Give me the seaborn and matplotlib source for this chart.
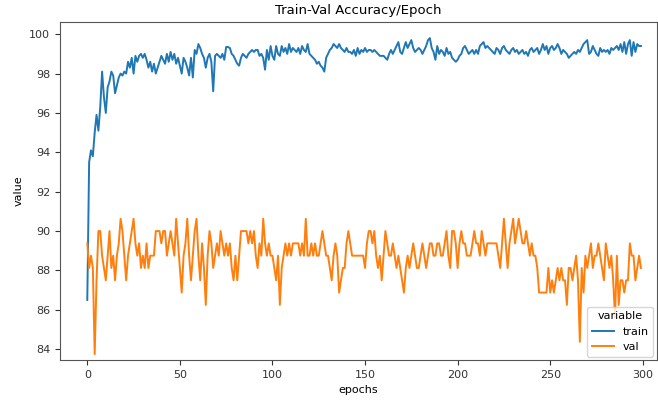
import matplotlib
matplotlib.use("Agg")
import matplotlib.pyplot as plt
import seaborn as sns
import pandas as pd
import numpy as np

train = [
    86.5, 93.5, 94.1, 93.8, 95.0, 95.9, 95.1, 96.3, 98.1, 96.8,
    96.0, 97.3, 97.6, 98.1, 97.9, 97.0, 97.4, 97.8, 98.0, 97.9,
    98.1, 98.0, 98.6, 98.3, 98.8, 98.0, 98.9, 98.6, 98.9, 99.0,
    98.8, 99.0, 98.7, 98.3, 98.6, 98.1, 98.5, 98.0, 98.3, 98.6,
    98.9, 98.7, 98.5, 99.0, 98.6, 99.1, 98.7, 99.0, 98.5, 98.8,
    98.4, 98.0, 98.8, 98.6, 98.3, 97.9, 98.8, 97.8, 99.2, 99.0,
    99.5, 99.3, 99.0, 98.8, 98.3, 98.8, 99.0, 98.6, 97.1, 98.9,
    99.0, 98.9, 98.8, 99.0, 98.7, 99.35, 99.35, 99.3, 99.0, 98.9,
    98.7, 98.5, 98.4, 98.8, 99.0, 98.9, 98.8, 99.0, 99.1, 99.2,
    99.1, 99.2, 99.2, 98.9, 99.0, 98.8, 98.2, 99.2, 98.7, 99.4,
    98.9, 98.7, 99.4, 99.0, 98.9, 99.4, 99.1, 99.3, 99.0, 99.5,
    99.1, 99.3, 99.2, 99.1, 99.3, 99.0, 99.4, 99.2, 99.1, 99.5,
    99.0, 98.9, 98.8, 98.7, 98.5, 98.6, 98.4, 98.3, 98.1, 98.8,
    99.0, 99.2, 99.3, 99.5, 99.4, 99.3, 99.5, 99.3, 99.2, 99.1,
    99.3, 99.1, 99.1, 99.0, 99.2, 98.9, 99.3, 99.0, 99.2, 99.1,
    99.3, 99.1, 99.2, 99.2, 99.1, 99.2, 99.1, 99.0, 98.9, 98.9,
    98.9, 98.8, 98.7, 99.0, 99.2, 99.0, 99.2, 99.4, 99.6, 99.1,
    99.0, 99.3, 99.6, 99.3, 99.5, 99.7, 99.3, 99.1, 99.2, 99.3,
    99.2, 99.0, 99.2, 99.4, 99.7, 99.8, 99.3, 99.1, 98.7, 99.4,
    99.0, 99.2, 99.1, 98.9, 99.3, 99.0, 99.1, 98.8, 98.7, 98.6,
    98.7, 98.9, 99.0, 99.3, 99.4, 99.2, 99.0, 99.1, 99.2, 99.0,
    99.2, 99.0, 99.4, 99.5, 99.6, 99.3, 99.4, 99.3, 99.2, 99.1,
    99.0, 99.3, 99.2, 99.0, 99.3, 99.4, 99.2, 99.1, 99.0, 99.2,
    99.3, 99.1, 99.2, 99.0, 99.1, 99.2, 99.0, 99.1, 98.9, 99.2,
    99.3, 99.1, 99.2, 99.3, 99.0, 99.2, 99.5, 99.2, 99.4, 99.0,
    99.3, 99.4, 99.2, 99.3, 99.5, 99.3, 99.0, 99.2, 99.1, 99.0,
    98.8, 98.9, 99.0, 99.1, 99.0, 99.2, 99.1, 99.3, 99.5, 99.6,
    99.7, 99.0, 99.1, 99.4, 99.2, 99.0, 98.9, 99.3, 99.1, 99.2,
    99.1, 99.2, 99.0, 99.3, 99.2, 99.3, 99.4, 99.2, 99.5, 99.1,
    99.6, 99.0, 99.5, 99.7, 98.9, 99.6, 99.1, 99.5, 99.4, 99.4,
]

val = [
    89.375, 88.125, 88.75, 88.125, 83.75, 87.5, 90.0, 90.0, 88.75, 88.125,
    87.5, 88.75, 90.0, 88.125, 88.75, 87.5, 88.75, 89.375, 90.625, 90.0,
    88.75, 87.5, 88.75, 89.375, 90.0, 90.625, 89.375, 88.75, 89.375, 88.125,
    88.75, 88.125, 89.375, 88.125, 88.75, 88.75, 88.75, 90.0, 90.0, 90.0,
    89.375, 90.0, 90.0, 88.75, 89.375, 90.0, 89.375, 88.75, 90.625, 89.375,
    88.125, 86.875, 88.75, 89.375, 90.625, 88.75, 87.5, 88.75, 90.0, 90.625,
    88.75, 87.5, 89.375, 88.125, 86.25, 88.75, 90.0, 89.375, 88.125, 88.75,
    89.375, 88.75, 90.0, 89.375, 88.75, 89.375, 88.75, 89.375, 88.125, 87.5,
    88.75, 87.5, 88.75, 90.0, 90.0, 90.0, 90.0, 89.375, 90.0, 89.375,
    90.0, 88.75, 88.125, 89.375, 88.75, 90.625, 89.375, 88.75, 89.375, 88.75,
    88.75, 88.125, 87.5, 88.75, 86.25, 88.125, 88.75, 89.375, 88.75, 89.375,
    88.75, 89.375, 89.375, 89.375, 89.375, 88.75, 89.375, 88.75, 90.625, 88.75,
    88.75, 89.375, 88.75, 89.375, 88.75, 88.75, 89.375, 90.0, 89.375, 88.75,
    88.75, 88.125, 87.5, 88.75, 89.375, 88.75, 86.875, 87.5, 88.125, 88.125,
    89.375, 90.0, 89.375, 88.75, 88.75, 88.75, 88.75, 88.75, 88.75, 88.75,
    88.125, 89.375, 90.0, 90.0, 89.375, 90.0, 88.75, 88.125, 88.75, 87.5,
    88.75, 90.0, 89.375, 88.75, 88.75, 89.375, 88.75, 88.125, 88.75, 88.125,
    87.5, 86.875, 88.125, 88.75, 88.125, 88.75, 89.375, 88.75, 88.125, 88.125,
    88.75, 89.375, 88.75, 88.125, 88.75, 89.375, 89.375, 88.75, 88.75, 89.375,
    89.375, 88.75, 88.75, 89.375, 90.0, 88.75, 88.125, 90.0, 90.0, 89.375,
    88.125, 89.375, 90.0, 89.375, 89.375, 88.75, 88.75, 88.75, 89.375, 90.0,
    89.375, 89.375, 88.75, 90.0, 89.375, 88.75, 89.375, 89.375, 89.375, 89.375,
    89.375, 89.375, 88.75, 88.125, 89.375, 90.625, 89.375, 88.125, 89.375, 90.0,
    90.625, 89.375, 90.0, 90.625, 90.0, 89.375, 89.375, 90.0, 89.375, 88.75,
    89.375, 88.75, 88.75, 88.125, 86.875, 86.875, 86.875, 86.875, 86.875, 88.125,
    86.875, 87.5, 86.875, 87.5, 88.125, 87.5, 88.125, 87.5, 87.5, 86.25,
    88.125, 88.125, 87.5, 88.125, 88.75, 87.5, 84.375, 88.125, 86.875, 88.75,
    88.125, 88.75, 89.375, 88.125, 88.75, 88.75, 89.375, 88.75, 88.125, 87.5,
    89.375, 88.75, 88.125, 88.75, 87.5, 85.625, 88.75, 86.25, 87.5, 87.5,
    86.875, 87.5, 87.5, 89.375, 88.75, 88.75, 87.5, 88.125, 88.75, 88.125,
]

epochs = list(range(len(train)))

df = pd.DataFrame({"epochs": epochs, "train": train, "val": val})
long = df.melt(id_vars="epochs", value_vars=["train", "val"],
               var_name="variable", value_name="value")

plt.rcParams["font.size"] = 8
fig = plt.figure(figsize=(6.58, 4.0), dpi=100)
ax = fig.add_axes([0.091, 0.10, 0.907, 0.845])
sns.lineplot(data=long, x="epochs", y="value", hue="variable", ax=ax, linewidth=1.4)
ax.set_title("Train-Val Accuracy/Epoch", fontsize=9.5)
ax.set_xlabel("epochs", fontsize=8)
ax.set_ylabel("value", fontsize=8)
ax.set_xlim(-14.8, 307.5)
ax.set_ylim(83.45, 100.62)
ax.set_xticks([0, 50, 100, 150, 200, 250, 300])
ax.set_yticks([84, 86, 88, 90, 92, 94, 96, 98, 100])
ax.tick_params(labelsize=8, colors="#333333")
for s in ax.spines.values():
    s.set_color("#555555")
leg = ax.legend(title="variable", loc="lower right", fontsize=8, title_fontsize=8,
                borderaxespad=0.3)
fig.savefig("out.png", dpi=100)
